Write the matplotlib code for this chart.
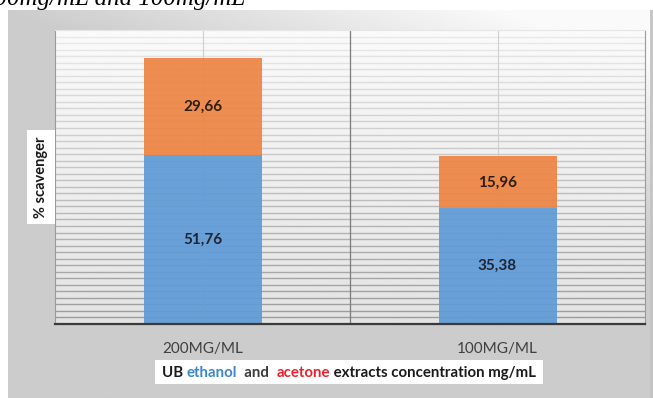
import numpy as np
import matplotlib
matplotlib.use('Agg')
import matplotlib.pyplot as plt
from matplotlib.patches import Rectangle

# data: % scavenger of UB extracts at two concentrations
categories = ['200MG/ML', '100MG/ML']
ethanol = [51.76, 35.38]
acetone = [29.66, 15.96]

plt.rcParams['font.family'] = ['Lato', 'DejaVu Sans']

W, H = 653, 398
fig = plt.figure(figsize=(W / 100, H / 100), dpi=100, facecolor='white')

# chart area background (gray, lighter toward the top right)
bg = fig.add_axes([8 / W, 0, (W - 8) / W, 388 / H], zorder=0)
yy, xx = np.mgrid[0:1:200j, 0:1:400j]
shade = 0.80 + 0.18 * np.clip(xx * 1.3 - yy * 2.2, 0, 1)
bg.imshow(shade, cmap='gray', vmin=0, vmax=1, aspect='auto', extent=[0, 1, 0, 1])
bg.axvline(0.997, color='#c4c4c4', lw=2)
bg.set_axis_off()

ax = fig.add_axes([55 / W, 1 - 324 / H, 590 / W, 294 / H], zorder=1)
ymax = 90
ax.set_xlim(-0.5, 1.5)
ax.set_ylim(0, ymax)

# plot area fill, white at the top fading to light gray
grad = np.linspace(0.98, 0.89, 100).reshape(-1, 1)
ax.imshow(grad, cmap='gray', vmin=0, vmax=1, aspect='auto',
          extent=[-0.5, 1.5, 0, ymax], zorder=0)

# horizontal gridlines, darker toward the bottom
for v in np.arange(2, ymax, 2):
    g = 0.60 + 0.32 * (v / ymax)
    ax.axhline(v, color=(g, g, g), lw=1.0, zorder=1)
for xc in [0, 1]:
    ax.axvline(xc, color='#cfcfcf', lw=0.8, zorder=1)
ax.axvline(0.5, color='#7a7a7a', lw=0.9, zorder=1)

x = np.arange(len(categories))
width = 0.4
ax.bar(x, ethanol, width, color='#5f9bd6', zorder=2, alpha=0.93)
ax.bar(x, acetone, width, bottom=ethanol, color='#ee8544', zorder=2, alpha=0.93)

def fmt(v):
    return f'{v:.2f}'.replace('.', ',')

for i in range(len(categories)):
    ax.text(x[i], ethanol[i] / 2, fmt(ethanol[i]), ha='center', va='center',
            fontsize=11, fontweight='bold', color='#1d2536', zorder=3)
    ax.text(x[i], ethanol[i] + acetone[i] / 2, fmt(acetone[i]), ha='center', va='center',
            fontsize=11, fontweight='bold', color='#2e1e12', zorder=3)

ax.set_xticks(x, categories)
ax.set_yticks([])
ax.tick_params(axis='x', length=0, pad=13, labelsize=11, labelcolor='#404040')
ax.spines['bottom'].set_color('#3a3a3a')
ax.spines['bottom'].set_linewidth(1.6)
for s in ['left', 'right']:
    ax.spines[s].set_color('#9a9a9a')
    ax.spines[s].set_linewidth(0.8)
ax.spines['top'].set_color('#e6e6e6')

# y axis title in a white box
fig.text(41 / W, 1 - 177 / H, '% scavenger', rotation=90, ha='center', va='center',
         fontsize=10.5, fontweight='bold', color='#1a1a1a',
         bbox=dict(boxstyle='square,pad=0.45', fc='white', ec='none'))

# x axis title with colored words
pieces = [('UB ', '#1a1a1a'), ('ethanol', '#3d86c9'), ('  and  ', '#3a3a3a'),
          ('acetone', '#e8232f'), (' extracts concentration mg/mL', '#1a1a1a')]
renderer = fig.canvas.get_renderer()
xpos = 162
base = H - 377
for s, c in pieces:
    t = fig.text(xpos / W, base / H, s, ha='left', va='baseline', fontsize=10.8,
                 fontweight='bold', color=c, zorder=5)
    bb = t.get_window_extent(renderer)
    xpos = bb.x1
fig.patches.append(Rectangle((155, H - 384), xpos - 155 + 7, 24, transform=None,
                             fc='white', ec='none', zorder=4))

# title line above the chart
fig.text(245 / W, 1 - 5 / H, '200mg/mL and 100mg/mL', family='Liberation Serif',
         style='italic', fontsize=18, ha='right', va='baseline', color='black')

fig.savefig('out.png', dpi=100, facecolor='white')
